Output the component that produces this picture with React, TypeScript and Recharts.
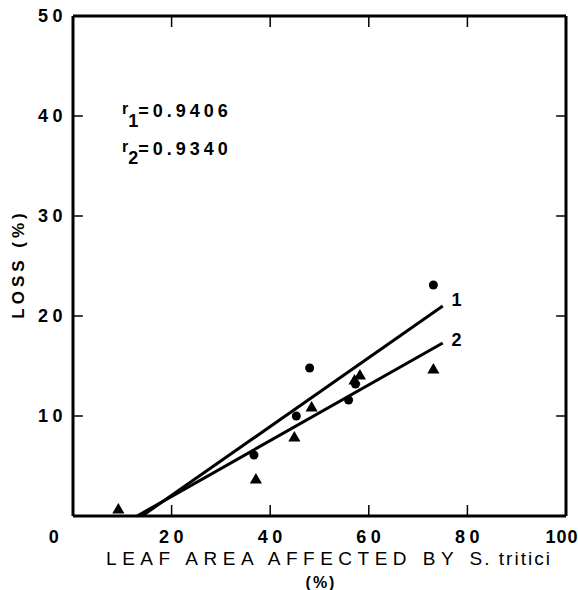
import { ScatterChart, Scatter, XAxis, YAxis, ReferenceLine, ReferenceDot } from "recharts";

// leaf area affected (%) vs loss (%)
const circleX = [36.7, 45.3, 48, 55.9, 57.3, 73.1];
const circleY = [6.1, 10.0, 14.8, 11.6, 13.2, 23.1];
const triangleX = [9.2, 37.1, 44.9, 48.4, 57.1, 58.2, 73.1];
const triangleY = [0.6, 3.6, 7.8, 10.8, 13.5, 14.0, 14.6];

// regression lines (start / end)
const line1X = [14, 75];
const line1Y = [0, 21];
const line2X = [13, 75];
const line2Y = [0, 17.3];

const xTicks = [0, 20, 40, 60, 80, 100];
const yTicks = [10, 20, 30, 40, 50];
const innerX = [20, 40, 60, 80];
const innerY = [10, 20, 30, 40];

const toPoints = (xs: number[], ys: number[]) => xs.map((x, i) => ({ x, y: ys[i] }));

const FONT = "'Liberation Sans', Arial, sans-serif";

const XTick = ({ x, y, payload }: any) => {
  const v = payload.value;
  const shift = v === 0 ? -17 : v === 100 ? -4 : 2;
  return (
    <text
      x={x + shift}
      y={y + 27}
      textAnchor="middle"
      fontFamily={FONT}
      fontWeight="bold"
      fontSize={18}
      letterSpacing={v === 100 ? 1 : 4.5}
      fill="#000"
    >
      {v}
    </text>
  );
};

const YTick = ({ x, y, payload }: any) => (
  <text
    x={x - 6}
    y={y + 6}
    textAnchor="end"
    fontFamily={FONT}
    fontWeight="bold"
    fontSize={18}
    letterSpacing={4.5}
    fill="#000"
  >
    {payload.value}
  </text>
);

const NoDot = () => null;

const App = () => {
  return (
    <div style={{ position: "absolute", left: 0, top: 0, width: 578, height: 590, background: "#fff" }}>
      <ScatterChart width={578} height={590} margin={{ top: 16, right: 12, left: 0, bottom: 0 }}>
        <XAxis
          type="number"
          dataKey="x"
          domain={[0, 100]}
          ticks={xTicks}
          interval={0}
          height={74}
          tickSize={0}
          tickMargin={0}
          tickLine={false}
          axisLine={{ stroke: "#000", strokeWidth: 3 }}
          tick={<XTick />}
        />
        <YAxis
          type="number"
          dataKey="y"
          domain={[0, 50]}
          ticks={yTicks}
          interval={0}
          width={73}
          tickSize={0}
          tickMargin={0}
          tickLine={false}
          axisLine={{ stroke: "#000", strokeWidth: 3 }}
          tick={<YTick />}
        />
        <ReferenceLine y={50} stroke="#000" strokeWidth={3} />
        <ReferenceLine x={100} stroke="#000" strokeWidth={3} />
        {innerX.map((v) => (
          <ReferenceLine key={`bx${v}`} segment={[{ x: v, y: 0 }, { x: v, y: 1.1 }]} stroke="#000" strokeWidth={1.5} />
        ))}
        {innerX.map((v) => (
          <ReferenceLine key={`tx${v}`} segment={[{ x: v, y: 50 }, { x: v, y: 48.9 }]} stroke="#000" strokeWidth={1.5} />
        ))}
        {innerY.map((v) => (
          <ReferenceLine key={`ly${v}`} segment={[{ x: 0, y: v }, { x: 2, y: v }]} stroke="#000" strokeWidth={1.5} />
        ))}
        {innerY.map((v) => (
          <ReferenceLine key={`ry${v}`} segment={[{ x: 100, y: v }, { x: 98, y: v }]} stroke="#000" strokeWidth={1.5} />
        ))}
        <Scatter
          data={toPoints(line1X, line1Y)}
          line={{ stroke: "#000", strokeWidth: 3 }}
          shape={<NoDot />}
          isAnimationActive={false}
        />
        <Scatter
          data={toPoints(line2X, line2Y)}
          line={{ stroke: "#000", strokeWidth: 3 }}
          shape={<NoDot />}
          isAnimationActive={false}
        />
        <Scatter data={toPoints(circleX, circleY)} shape="circle" fill="#000" isAnimationActive={false} />
        <Scatter data={toPoints(triangleX, triangleY)} shape="triangle" fill="#000" isAnimationActive={false} />
        <ReferenceDot
          x={77.8}
          y={21.6}
          r={0}
          label={{ value: "1", fontFamily: FONT, fontWeight: "bold", fontSize: 18, fill: "#000" }}
        />
        <ReferenceDot
          x={77.8}
          y={17.6}
          r={0}
          label={{ value: "2", fontFamily: FONT, fontWeight: "bold", fontSize: 18, fill: "#000" }}
        />
      </ScatterChart>
      <svg width={578} height={590} style={{ position: "absolute", left: 0, top: 0, pointerEvents: "none" }}>
        <g fontFamily={FONT} fill="#000">
          <text x={122} y={114} fontSize={16} fontWeight="bold">
            r
            <tspan dy={13} fontSize={18}>1</tspan>
            <tspan dy={-10} fontSize={18} letterSpacing={4}>=0.9406</tspan>
          </text>
          <text x={122} y={152} fontSize={16} fontWeight="bold">
            r
            <tspan dy={12} fontSize={18}>2</tspan>
            <tspan dy={-9} fontSize={18} letterSpacing={4}>=0.9340</tspan>
          </text>
          <text
            transform="translate(24,264) rotate(-90)"
            textAnchor="middle"
            fontSize={17}
            fontWeight="bold"
            letterSpacing={4}
          >
            LOSS (%)
          </text>
          <text x={329} y={565} textAnchor="middle" fontSize={19} letterSpacing={5.5}>
            LEAF AREA AFFECTED BY <tspan letterSpacing={2}>S. tritici</tspan>
          </text>
          <text x={321} y={588} textAnchor="middle" fontSize={16} fontWeight="bold" letterSpacing={2}>
            (%)
          </text>
        </g>
      </svg>
    </div>
  );
};

export default App;
